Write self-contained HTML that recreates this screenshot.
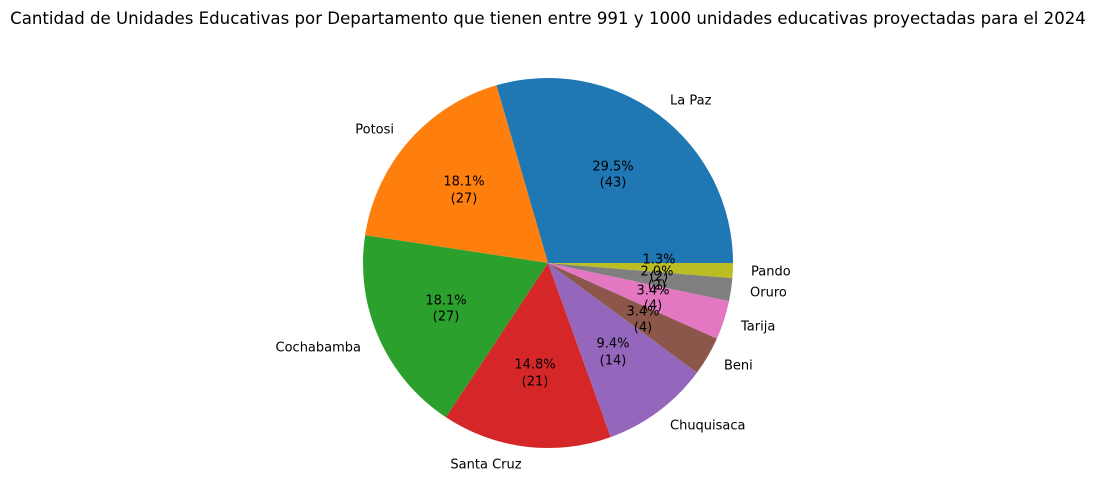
<!DOCTYPE html>
<html><head><meta charset="utf-8"><style>body{margin:0;background:#fff}svg{display:block}text{font-family:"DejaVu Sans","Liberation Sans",sans-serif;font-size:13px;fill:#000}</style></head>
<body>
<svg width="1095" height="504" xmlns="http://www.w3.org/2000/svg">
<text x="548" y="24" text-anchor="middle" style="font-size:16.6px">Cantidad de Unidades Educativas por Departamento que tienen entre 991 y 1000 unidades educativas proyectadas para el 2024</text>
<g>
<path d="M548,263 L733,263 A185,185 0 0 0 496.4,85.3 Z" fill="#1f77b4"/>
<path d="M548,263 L496.4,85.3 A185,185 0 0 0 365.1,235.2 Z" fill="#ff7f0e"/>
<path d="M548,263 L365.1,235.2 A185,185 0 0 0 445.9,417.3 Z" fill="#2ca02c"/>
<path d="M548,263 L445.9,417.3 A185,185 0 0 0 610.7,437.1 Z" fill="#d62728"/>
<path d="M548,263 L610.7,437.1 A185,185 0 0 0 697.0,372.6 Z" fill="#9467bd"/>
<path d="M548,263 L697.0,372.6 A185,185 0 0 0 716.9,338.6 Z" fill="#8c564b"/>
<path d="M548,263 L716.9,338.6 A185,185 0 0 0 729.0,301.1 Z" fill="#e377c2"/>
<path d="M548,263 L729.0,301.1 A185,185 0 0 0 732.4,278.1 Z" fill="#7f7f7f"/>
<path d="M548,263 L732.4,278.1 A185,185 0 0 0 733,263 Z" fill="#bcbd22"/>
</g>
<g dominant-baseline="central" transform="translate(0,1)">
<text x="670" y="100">La Paz</text>
<text x="394" y="129" text-anchor="end">Potosi</text>
<text x="361" y="347" text-anchor="end">Cochabamba</text>
<text x="486" y="464" text-anchor="middle">Santa Cruz</text>
<text x="670" y="425">Chuquisaca</text>
<text x="724" y="365">Beni</text>
<text x="741" y="326">Tarija</text>
<text x="750" y="292">Oruro</text>
<text x="751" y="271">Pando</text>
</g>
<g dominant-baseline="central" text-anchor="middle" transform="translate(0,1)">
<text x="613" y="166">29.5%</text><text x="613" y="182">(43)</text>
<text x="464" y="181">18.1%</text><text x="464" y="198">(27)</text>
<text x="446" y="300">18.1%</text><text x="446" y="316">(27)</text>
<text x="535" y="364">14.8%</text><text x="535" y="381">(21)</text>
<text x="613" y="343">9.4%</text><text x="613" y="360">(14)</text>
<text x="643" y="311">3.4%</text><text x="643" y="327">(4)</text>
<text x="653" y="290">3.4%</text><text x="653" y="305">(4)</text>
<text x="657" y="271">2.0%</text><text x="657" y="285">(2)</text>
<text x="659" y="259">1.3%</text><text x="659" y="276">(2)</text>
</g>
</svg>
</body></html>
